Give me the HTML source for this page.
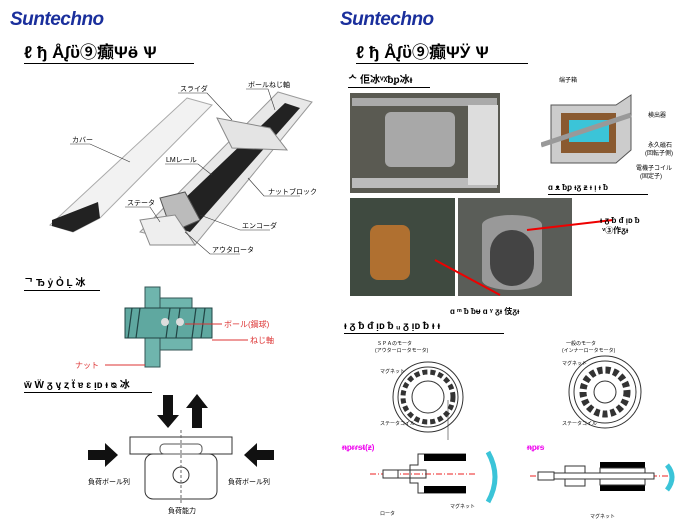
<!DOCTYPE html>
<html><head><meta charset="utf-8"><style>
body{margin:0;width:688px;height:530px;background:#fff;position:relative;overflow:hidden;font-family:"Liberation Sans","Noto Sans CJK JP",sans-serif}
.a{position:absolute}
.logo{font-style:italic;font-weight:bold;color:#1a2f9c;font-size:19px;letter-spacing:-0.5px}
.ttl{font-size:17px;border-bottom:1.5px solid #000;line-height:20px;font-weight:bold}
.sub{font-size:10px;font-weight:bold;border-bottom:1px solid #000;line-height:12px}
</style></head><body>
<div class="a logo" style="left:10px;top:9px">Suntechno</div>
<div class="a logo" style="left:340px;top:9px">Suntechno</div>
<div class="a ttl" style="left:24px;top:43px;width:170px">ℓ ђ Åᶘὒ⑨癫Ψӫ Ѱ</div>
<div class="a ttl" style="left:356px;top:43px;width:172px">ℓ ђ Åᶘὒ⑨癫ΨӰ Ѱ</div>

<!-- top-left product image -->
<svg class="a" style="left:0;top:0" width="340" height="270" font-size="7">
<polygon points="187,98 212,105 100,218 73,232 50,225" fill="#f2f2f2" stroke="#aaa"/>
<polygon points="52,220 98,202 100,218 73,232 52,226" fill="#222"/>
<polygon points="278,92 312,102 195,245 140,232" fill="#e8e8e8" stroke="#999"/>
<polygon points="285,103 300,108 190,232 160,222" fill="#222"/>
<polygon points="217,118 270,128 287,150 232,148" fill="#e4e4e4" stroke="#888"/>
<polygon points="160,198 185,192 200,220 172,232" fill="#bbb" stroke="#555"/>
<polygon points="140,220 175,215 195,245 150,245" fill="#eee" stroke="#888"/>
<text x="180" y="91">スライダ</text><text x="248" y="87">ボールねじ軸</text>
<text x="72" y="142">カバー</text><text x="166" y="162">LMレール</text>
<text x="268" y="194">ナットブロック</text><text x="127" y="205">ステータ</text>
<text x="242" y="228">エンコーダ</text><text x="212" y="252">アウタロータ</text>
<g stroke="#333" stroke-width="0.6" fill="none">
<polyline points="178,93 207,93 232,120"/><polyline points="246,89 268,89 275,110"/>
<polyline points="70,144 90,144 130,162"/><polyline points="165,164 198,164 212,175"/>
<polyline points="300,196 264,196 248,178"/><polyline points="125,207 150,207 160,222"/>
<polyline points="270,230 240,230 200,215"/><polyline points="240,254 210,254 185,232"/>
</g>
</svg>

<div class="a sub" style="left:24px;top:278px;width:76px">ᄀ Ђ ẏ Ỏ Ḷ 冰</div>
<svg class="a" style="left:0;top:280px" width="340" height="90" font-size="8">
<rect x="145" y="7" width="15" height="80" fill="#6fb5ad" stroke="#355"/>
<rect x="160" y="18" width="32" height="52" fill="#6fb5ad" stroke="#355"/>
<rect x="125" y="28" width="87" height="30" fill="#5fa8a0" stroke="#244"/>
<g stroke="#244" stroke-width="1.2">
<line x1="132" y1="28" x2="128" y2="58"/><line x1="140" y1="28" x2="136" y2="58"/><line x1="170" y1="28" x2="166" y2="58"/>
<line x1="180" y1="28" x2="176" y2="58"/><line x1="196" y1="28" x2="192" y2="58"/><line x1="205" y1="28" x2="201" y2="58"/>
</g>
<circle cx="165" cy="42" r="4" fill="#ddd"/><circle cx="180" cy="42" r="4" fill="#ddd"/>
<text x="224" y="47" fill="#d33">ボール(鋼球)</text>
<text x="250" y="63" fill="#d33">ねじ軸</text>
<text x="75" y="88" fill="#d33">ナット</text>
<line x1="185" y1="44" x2="222" y2="44" stroke="#d33"/>
<line x1="212" y1="60" x2="248" y2="60" stroke="#d33"/>
<line x1="105" y1="85" x2="145" y2="85" stroke="#d33"/>
</svg>

<div class="a sub" style="left:24px;top:380px;width:128px">ẅ Ẅ ᵹ ᶌ ȥ ẗ ɐ ɛ ᴉᴅ ᵻ ᴓ 冰</div>
<svg class="a" style="left:0;top:390px" width="340" height="140" font-size="7">
<polygon points="163,5 173,5 173,25 179,25 168,38 157,25 163,25" fill="#111"/>
<polygon points="192,38 202,38 202,18 208,18 197,4 186,18 192,18" fill="#111"/>
<polygon points="88,60 105,60 105,53 118,65 105,77 105,70 88,70" fill="#111"/>
<polygon points="274,60 257,60 257,53 244,65 257,77 257,70 274,70" fill="#111"/>
<rect x="130" y="47" width="102" height="17" fill="#fff" stroke="#333"/>
<rect x="145" y="64" width="72" height="45" fill="#fff" stroke="#333" rx="8"/>
<rect x="160" y="54" width="42" height="10" fill="#fff" stroke="#555" rx="4"/>
<circle cx="181" cy="85" r="8" fill="#fff" stroke="#333"/>
<line x1="181" y1="40" x2="181" y2="115" stroke="#666" stroke-dasharray="3,2"/>
<text x="88" y="94">負荷ボール列</text><text x="228" y="94">負荷ボール列</text>
<text x="168" y="123">負荷能力</text>
</svg>

<!-- right side -->
<div class="a sub" style="left:348px;top:75px;width:82px">ᄉ 佢冰ᵛᵡᵬᵱ冰ᵻ</div>
<div class="a" style="left:350px;top:93px;width:150px;height:100px;background:#5a5a52"></div>
<div class="a" style="left:352px;top:98px;width:145px;height:8px;background:#aaa"></div>
<div class="a" style="left:352px;top:178px;width:145px;height:10px;background:#bbb"></div>
<div class="a" style="left:385px;top:112px;width:70px;height:55px;background:#a8a8a8;border-radius:6px"></div>
<div class="a" style="left:468px;top:105px;width:30px;height:80px;background:#ddd"></div>
<svg class="a" style="left:541px;top:75px" width="147" height="110" font-size="6">
<polygon points="10,30 75,30 90,20 90,75 75,88 10,88" fill="#ccc" stroke="#555"/>
<rect x="20" y="38" width="55" height="40" fill="#8a5a30"/>
<rect x="28" y="45" width="40" height="22" fill="#3bc4d8"/>
<line x1="0" y1="70" x2="90" y2="40" stroke="#999" stroke-width="5"/>
<text x="18" y="7">端子箱</text><text x="107" y="42">検出器</text>
<text x="107" y="72">永久磁石</text><text x="104" y="80">(回転子側)</text>
<text x="95" y="95">電機子コイル</text><text x="99" y="103">(固定子)</text>
</svg>
<div class="a sub" style="left:548px;top:182px;width:100px;font-size:8px">ɑ ᴥ ᵬᵱ ᵻᵹ ᵶ ᵻ ᴉ ᵻ ᵬ</div>
<div class="a" style="left:350px;top:198px;width:105px;height:98px;background:#3f4a40"></div>
<div class="a" style="left:370px;top:225px;width:40px;height:55px;background:#b07030;border-radius:8px"></div>
<div class="a" style="left:458px;top:198px;width:114px;height:98px;background:#5a5d58"></div>
<div class="a" style="left:482px;top:215px;width:60px;height:75px;background:#999;border-radius:30px/10px"></div>
<div class="a" style="left:490px;top:230px;width:44px;height:56px;background:#444;border-radius:22px"></div>
<svg class="a" style="left:340px;top:190px" width="348" height="110">
<line x1="95" y1="70" x2="160" y2="105" stroke="#e00" stroke-width="2"/>
<line x1="273" y1="30" x2="187" y2="40" stroke="#e00" stroke-width="2"/>
</svg>
<div class="a" style="left:600px;top:216px;font-size:8px;font-weight:bold">ᵻ ᵹ ᵬ ᵭ ᴉᴅ ᵬ<br>&nbsp;ᵛ③作ᵹᵻ</div>
<div class="a" style="left:450px;top:306px;font-size:8px;font-weight:bold">ɑ ᵐ ᵬ ᵬᵾ ɑ ᵞ ᵹᵻ 伎ᵹᵻ</div>
<div class="a sub" style="left:344px;top:321px;width:160px">ᵻ ᵹ ᵬ ᵭ ᴉᴅ ᵬ ᵤ ᵹ ᴉᴅ ᵬ ᵻ ᵻ</div>

<svg class="a" style="left:340px;top:330px" width="348" height="200" font-size="5">
<text x="37" y="15">ＳＰＡのモータ</text><text x="35" y="22">(アウターロータモータ)</text>
<circle cx="88" cy="67" r="35" fill="none" stroke="#333"/><circle cx="88" cy="67" r="30" fill="none" stroke="#333"/>
<circle cx="88" cy="67" r="25" fill="none" stroke="#333" stroke-width="5" stroke-dasharray="5,3"/>
<circle cx="88" cy="67" r="16" fill="#fff" stroke="#333"/>
<line x1="108" y1="70" x2="108" y2="110" stroke="#333" stroke-width="0.6"/>
<text x="40" y="95">ステータコイル</text><text x="40" y="43">マグネット</text>
<text x="226" y="15">一般のモータ</text><text x="222" y="22">(インナーロータモータ)</text>
<circle cx="265" cy="62" r="36" fill="none" stroke="#333"/><circle cx="265" cy="62" r="31" fill="none" stroke="#333"/>
<circle cx="265" cy="62" r="22" fill="none" stroke="#333" stroke-width="7" stroke-dasharray="5,3"/>
<circle cx="265" cy="62" r="11" fill="#fff" stroke="#333"/>
<text x="222" y="95">ステータコイル</text><text x="222" y="35">マグネット</text>
<text x="2" y="120" font-size="8" fill="#e0e" font-weight="bold">ᵰᵱᵲᵳᵴᵵ(ᵶ)</text>
<text x="187" y="120" font-size="8" fill="#e0e" font-weight="bold">ᵰᵱᵲᵴ</text>
<line x1="30" y1="144" x2="135" y2="144" stroke="#e22" stroke-dasharray="6,2,1,2"/>
<rect x="43" y="140" width="15" height="8" fill="#fff" stroke="#333"/>
<rect x="58" y="140" width="28" height="8" fill="none" stroke="#333"/>
<polyline points="126,124 78,124 78,135 70,135 70,153 78,153 78,163 126,163" fill="none" stroke="#333"/>
<rect x="84" y="124" width="42" height="7" fill="#000"/>
<rect x="84" y="156" width="42" height="7" fill="#000"/>
<line x1="190" y1="146" x2="330" y2="146" stroke="#e22" stroke-dasharray="6,2,1,2"/>
<rect x="198" y="142" width="16" height="8" fill="#fff" stroke="#333"/>
<rect x="225" y="136" width="20" height="20" fill="#fff" stroke="#333"/>
<rect x="260" y="132" width="45" height="6" fill="#000"/>
<rect x="260" y="155" width="45" height="6" fill="#000"/>
<rect x="260" y="138" width="45" height="17" fill="#fff" stroke="#333"/>
<rect x="214" y="143" width="100" height="6" fill="#fff" stroke="#333"/>
<path d="M148 122 q14 25 0 50" stroke="#3bc4d8" stroke-width="5" fill="none"/>
<path d="M327 135 q10 12 0 25" stroke="#3bc4d8" stroke-width="5" fill="none"/>
<text x="110" y="178">マグネット</text><text x="40" y="185">ロータ</text><text x="250" y="188">マグネット</text>
</svg>
</body></html>
